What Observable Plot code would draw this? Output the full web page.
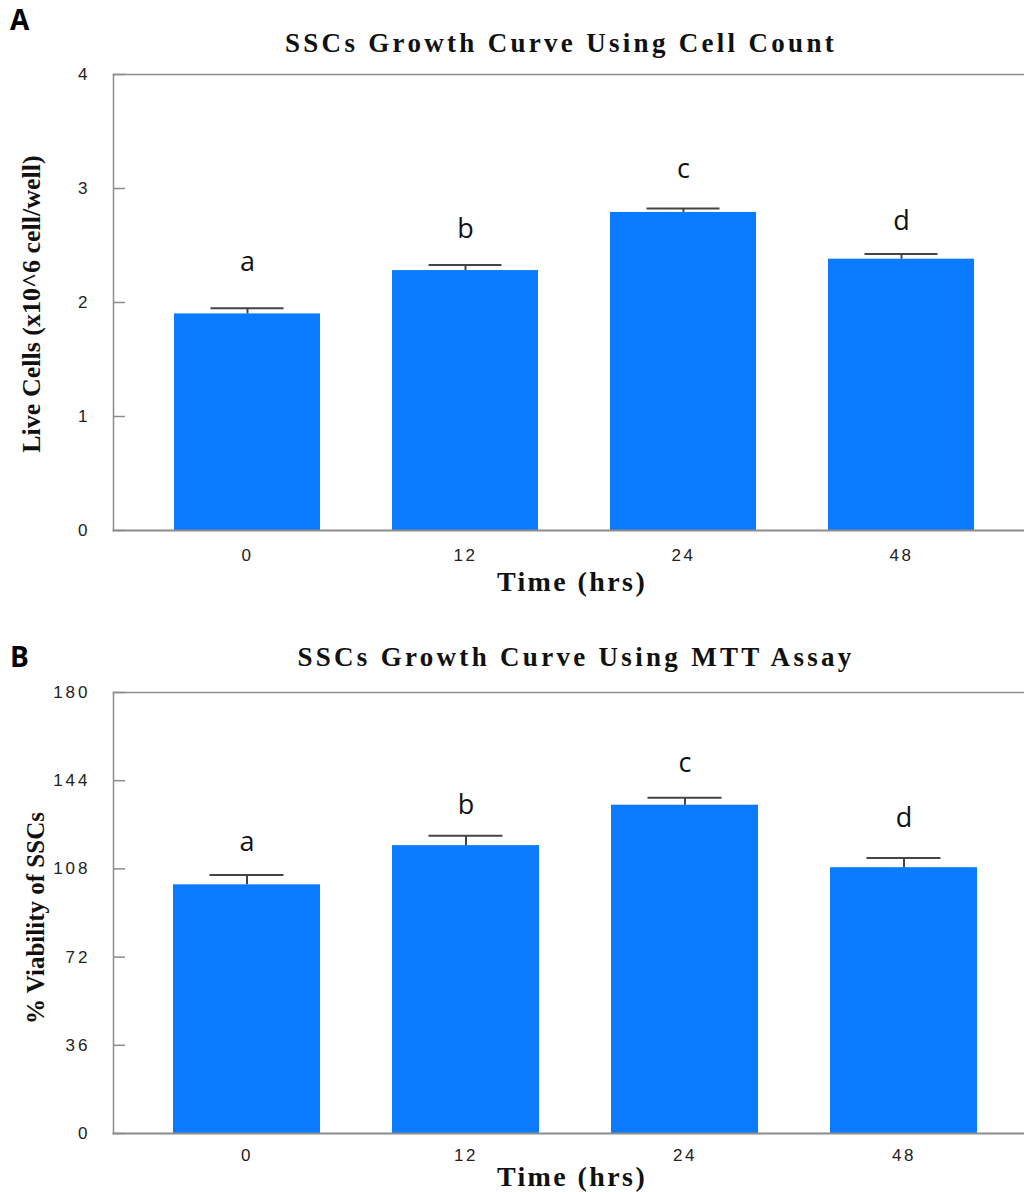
<!DOCTYPE html>
<html>
<head>
<meta charset="utf-8">
<script src="https://cdn.jsdelivr.net/npm/d3@7"></script>
<script src="https://cdn.jsdelivr.net/npm/@observablehq/plot@0.6"></script>
<style>
  html, body { margin: 0; padding: 0; background: #fff; }
  #wrap { position: relative; width: 1024px; height: 1192px; overflow: hidden; }
  .panel { position: absolute; left: 0; }
  .tag { position: absolute; font-family: "Open Sans", sans-serif; font-weight: 700; font-size: 28px; color: #000; }
  .title { position: absolute; font-family: "Liberation Serif", serif; font-weight: 700; font-size: 27px; letter-spacing: 3.3px; color: #111; transform: translate(-50%, -50%); white-space: nowrap; }
  .xlab { position: absolute; font-family: "Liberation Serif", serif; font-weight: 700; font-size: 28px; letter-spacing: 2.4px; color: #111; transform: translate(-50%, -50%); white-space: nowrap; }
  .ylab { position: absolute; font-family: "Liberation Serif", serif; font-weight: 700; color: #111; transform: translate(-50%, -50%) rotate(-90deg); white-space: nowrap; }
  g[aria-label="y-axis tick label"] text { letter-spacing: 3px; }
  g[aria-label="x-axis tick label"] text { letter-spacing: 2.5px; }
</style>
</head>
<body>
<div id="wrap">
  <div class="tag" style="left:10px;top:0px;">A</div>
  <div class="title" style="left:561px;top:43px;">SSCs Growth Curve Using Cell Count</div>
  <div class="panel" id="pa" style="top:0px;"></div>
  <div class="xlab" style="left:572px;top:582px;">Time (hrs)</div>
  <div class="ylab" style="left:32px;top:304px;font-size:26px;">Live Cells (x10^6 cell/well)</div>

  <div class="tag" style="left:10px;top:637px;">B</div>
  <div class="title" style="left:576px;top:657px;">SSCs Growth Curve Using MTT Assay</div>
  <div class="panel" id="pb" style="top:600px;"></div>
  <div class="xlab" style="left:572px;top:1177px;">Time (hrs)</div>
  <div class="ylab" style="left:36px;top:918px;font-size:25px;">% Viability of SSCs</div>
</div>
<script>
// ---- Data ----
const times = ["0", "12", "24", "48"];
const letters = ["a", "b", "c", "d"];

// Panel A: live cells (x10^6 cell/well)
const cellMeans = [1.90, 2.28, 2.79, 2.38];
const cellErrs = [0.05, 0.05, 0.035, 0.045];
const cellLetterY = [2.35, 2.64, 3.17, 2.71];
const cellTicks = [0, 1, 2, 3, 4];

// Panel B: % viability (MTT)
const mttMeans = [101.5, 117.5, 134.0, 108.5];
const mttErrs = [4.0, 4.0, 3.0, 4.0];
const mttLetterY = [119, 134, 151, 128.5];
const mttTicks = [0, 36, 72, 108, 144, 180];

const barColor = "#0a7bff";
const axisGray = "#8c8c8c";

const W = 1024, ML = 113, TICKLEN = 12;

function rows(means, errs, lety) {
  return times.map((t, i) => ({time: t, mean: means[i], err: errs[i], top: means[i] + errs[i], letter: letters[i], ly: lety[i]}));
}

function panel(data, {height, marginTop, marginBottom, yDomain, ticks, xRange, padInner, xPad}) {
  return Plot.plot({
    width: W,
    height,
    marginLeft: ML,
    marginRight: 0,
    marginTop,
    marginBottom,
    style: {fontFamily: "'Liberation Sans', Arial, sans-serif", fontSize: "17px", background: "transparent"},
    x: {domain: times, range: xRange, paddingInner: padInner, paddingOuter: padInner / 2, label: null},
    y: {domain: yDomain, label: null},
    marks: [
      Plot.barY(data, {x: "time", y: "mean", fill: barColor}),
      Plot.ruleX(data, {x: "time", y1: "mean", y2: "top", stroke: "#444", strokeWidth: 2}),
      Plot.tickY(data, {x: "time", y: "top", stroke: "#444", strokeWidth: 2, insetLeft: 36.5, insetRight: 36.5}),
      Plot.text(data, {x: "time", y: "ly", text: "letter", fontSize: 27, fill: "#111", fontFamily: "'Open Sans', sans-serif"}),
      Plot.frame({anchor: "left", stroke: axisGray, strokeWidth: 1.5}),
      Plot.frame({anchor: "top", stroke: axisGray, strokeWidth: 1.5}),
      Plot.frame({anchor: "bottom", stroke: axisGray, strokeWidth: 2}),
      Plot.tickY(ticks, {y: (d) => d, stroke: axisGray, strokeWidth: 1.5, insetRight: W - ML - TICKLEN}),
      Plot.axisY({ticks, tickSize: 0, tickPadding: 23, tickFormat: d3.format("d"), fill: "#222", label: null}),
      Plot.axisX({tickSize: 0, tickPadding: xPad, fill: "#222", label: null})
    ]
  });
}

document.getElementById("pa").append(panel(rows(cellMeans, cellErrs, cellLetterY), {
  height: 600, marginTop: 74, marginBottom: 70, yDomain: [0, 4], ticks: cellTicks,
  xRange: [136.5, 1011.5], padInner: 0.332, xPad: 18
}));

document.getElementById("pb").append(panel(rows(mttMeans, mttErrs, mttLetterY), {
  height: 592, marginTop: 92, marginBottom: 59, yDomain: [0, 180], ticks: mttTicks,
  xRange: [135.5, 1013.9], padInner: 0.331, xPad: 15
}));
</script>
</body>
</html>
